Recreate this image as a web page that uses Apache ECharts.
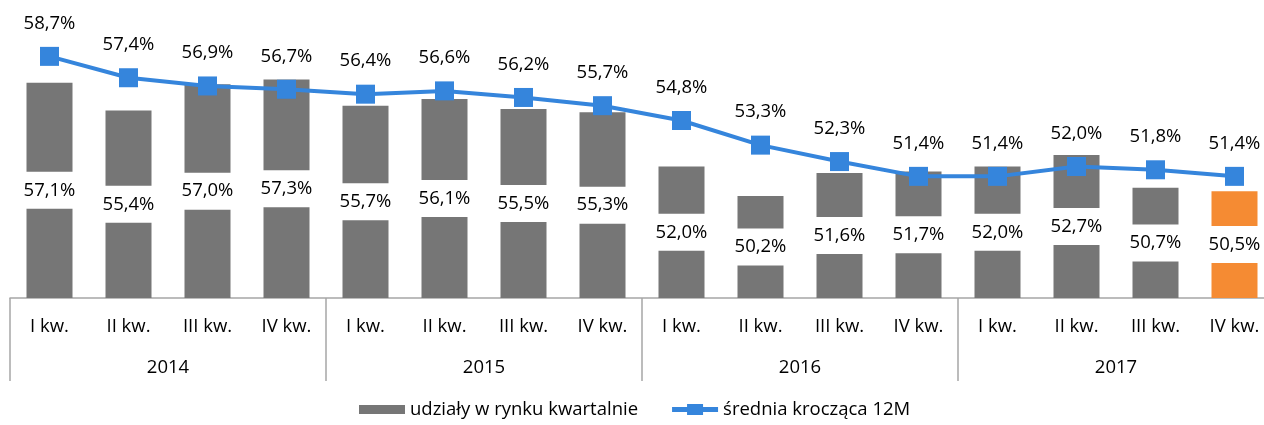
<!DOCTYPE html>
<html>
<head>
<meta charset="utf-8">
<script src="https://cdn.jsdelivr.net/npm/echarts@6/dist/echarts.min.js"></script>
<style>
  html, body { margin: 0; padding: 0; background: #fff; overflow: hidden; }
  #chart { width: 1274px; height: 425px; }
</style>
</head>
<body>
<div id="chart"></div>
<script>
// dane
var kwartaly = ['I kw.', 'II kw.', 'III kw.', 'IV kw.',
                'I kw.', 'II kw.', 'III kw.', 'IV kw.',
                'I kw.', 'II kw.', 'III kw.', 'IV kw.',
                'I kw.', 'II kw.', 'III kw.', 'IV kw.'];
var lata = ['2014', '2015', '2016', '2017'];
var udzialy = [57.1, 55.4, 57.0, 57.3, 55.7, 56.1, 55.5, 55.3,
               52.0, 50.2, 51.6, 51.7, 52.0, 52.7, 50.7, 50.5];
var srednia = [58.7, 57.4, 56.9, 56.7, 56.4, 56.6, 56.2, 55.7,
               54.8, 53.3, 52.3, 51.4, 51.4, 52.0, 51.8, 51.4];

var FONT = '"Open Sans", sans-serif';
var SZARY = '#767676';
var NIEBIESKI = '#3585DC';
var POMARANCZ = '#F58B33';
var LINIA_OSI = '#A6A6A6';
var FS = 18.5;

function fmt(v) {
    return v.toFixed(1).replace('.', ',') + '%';
}

// wykres jest o 10px szerszy od okna - ostatnia kategoria wychodzi poza kadr jak w oryginale
var myChart = echarts.init(document.getElementById('chart'));

// ostatni słupek na pomarańczowo
var daneSlupki = udzialy.map(function (v, i) {
    if (i === udzialy.length - 1) {
        return { value: v, itemStyle: { color: POMARANCZ } };
    }
    return v;
});

var option = {
    animation: false,
    textStyle: { fontFamily: FONT },
    grid: { left: 10, right: 0, top: 35, bottom: 127 },
    legend: {
        bottom: 1,
        left: 354,
        itemGap: 34,
        itemWidth: 46,
        itemHeight: 11,
        textStyle: { fontFamily: FONT, fontSize: FS, color: '#000' },
        data: [
            { name: 'udziały w rynku kwartalnie', icon: 'path://M0,1H46V10H0Z' },
            // gruba linia z kwadratem jak w excelu
            { name: 'średnia krocząca 12M', icon: 'path://M0,3H46V8H0Z M15,0H31V11H15Z' }
        ]
    },
    xAxis: [{
        type: 'category',
        data: kwartaly,
        position: 'bottom',
        axisLine: { lineStyle: { color: LINIA_OSI, width: 1.5 } },
        axisTick: { show: false },
        axisLabel: { interval: 0, margin: 19, fontSize: FS, color: '#000', fontFamily: FONT }
    }, {
        type: 'category',
        data: lata,
        position: 'bottom',
        axisLine: { show: false },
        axisTick: { show: true, length: 83, interval: 0, lineStyle: { color: LINIA_OSI, width: 1.5 } },
        axisLabel: { interval: 0, margin: 60, fontSize: FS, color: '#000', fontFamily: FONT }
    }],
    yAxis: {
        type: 'value',
        min: 44,
        max: 60,
        show: false,
        splitLine: { show: false }
    },
    series: [{
        name: 'udziały w rynku kwartalnie',
        type: 'bar',
        xAxisIndex: 0,
        barWidth: 46,
        itemStyle: { color: SZARY },
        label: {
            show: true,
            position: 'inside',
            color: '#000',
            fontSize: FS,
            fontFamily: FONT,
            backgroundColor: '#fff',
            padding: [10, 2, 8, 2],
            lineHeight: 19,
            formatter: function (p) { return fmt(p.value); }
        },
        data: daneSlupki
    }, {
        name: 'średnia krocząca 12M',
        type: 'line',
        xAxisIndex: 0,
        symbol: 'rect',
        symbolSize: 19,
        itemStyle: { color: NIEBIESKI },
        lineStyle: { color: NIEBIESKI, width: 4 },
        label: {
            show: true,
            position: 'top',
            distance: 14,
            color: '#000',
            fontSize: FS,
            fontFamily: FONT,
            formatter: function (p) { return fmt(p.value); }
        },
        data: srednia
    }]
};

myChart.setOption(option);
</script>
</body>
</html>
